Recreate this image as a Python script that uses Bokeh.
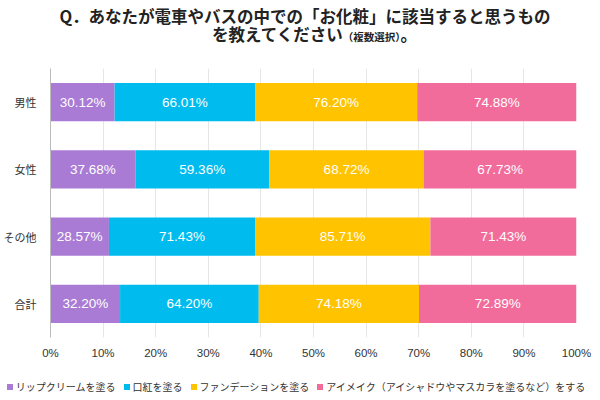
from bokeh.plotting import figure
from bokeh.models import ColumnDataSource, FactorRange, FixedTicker, CustomJSTickFormatter, Div
from bokeh.layouts import column
from bokeh.core.properties import value
from bokeh.embed import file_html
from bokeh.resources import INLINE

categories = ["男性", "女性", "その他", "合計"]
series_names = ["リップクリームを塗る", "口紅を塗る", "ファンデーションを塗る", "アイメイク（アイシャドウやマスカラを塗るなど）をする"]
lip = [30.12, 37.68, 28.57, 32.20]
rouge = [66.01, 59.36, 71.43, 64.20]
foundation = [76.20, 68.72, 85.71, 74.18]
eye = [74.88, 67.73, 71.43, 72.89]
colors = ["#A97BD5", "#00BCEE", "#FFC300", "#F26C9B"]
x_ticks = [0, 10, 20, 30, 40, 50, 60, 70, 80, 90, 100]
title_line1 = "Q．あなたが電車やバスの中での「お化粧」に該当すると思うもの"
title_line2a = "を教えてください"
title_line2b = "（複数選択）"
title_line2c = "。"

JP = "'Noto Sans CJK JP'"
FONT = "Noto Sans CJK JP"
NUM = "Liberation Sans"
series = [lip, rouge, foundation, eye]
totals = [sum(v) for v in zip(*series)]

title_html = (
    f"<div style=\"width:600px;font-family:{JP};font-weight:bold;color:#222;\">"
    f"<div style=\"font-size:16.5px;line-height:17.5px;padding-top:8px;padding-left:10px;"
    f"text-align:center;white-space:nowrap;\">{title_line1}</div>"
    f"<div style=\"font-size:16.5px;line-height:17.5px;padding-left:212px;text-align:left;"
    f"white-space:nowrap;\">{title_line2a}"
    f"<span style=\"font-size:10.5px;\">{title_line2b}</span>{title_line2c}</div></div>"
)
title_div = Div(text=title_html, width=600, height=60, margin=0)

p = figure(width=600, height=305, output_backend="svg", toolbar_location=None,
           y_range=FactorRange(factors=list(reversed(categories)), range_padding=0),
           x_range=(0, 100), margin=0,
           min_border_left=47, min_border_right=24, min_border_top=8, min_border_bottom=28)
p.outline_line_color = None

left = [0.0] * len(categories)
for name, vals, col in zip(series_names, series, colors):
    pct = [v / t * 100 for v, t in zip(vals, totals)]
    right = [l + q for l, q in zip(left, pct)]
    mid = [(l + r) / 2 for l, r in zip(left, right)]
    src = ColumnDataSource(dict(y=categories, left=left, right=right, mid=mid,
                                lab=[f"{v:.2f}%" for v in vals]))
    p.hbar(y="y", left="left", right="right", height=0.57, source=src,
           fill_color=col, line_color=None)
    p.text(x="mid", y="y", text="lab", source=src, text_color="white",
           text_align="center", text_baseline="middle", text_font=value(NUM),
           text_font_size="13.5px")
    left = right

p.xaxis.ticker = FixedTicker(ticks=x_ticks)
p.xaxis.formatter = CustomJSTickFormatter(code="return tick + '%'")
p.xaxis.axis_line_color = None
p.xaxis.major_tick_line_color = None
p.xaxis.minor_tick_line_color = None
p.xaxis.major_label_text_font = NUM
p.xaxis.major_label_text_font_size = "11.5px"
p.xaxis.major_label_text_color = "#333333"
p.xaxis.major_label_standoff = 3

p.yaxis.axis_line_color = "#bbbbbb"
p.yaxis.major_tick_line_color = None
p.yaxis.major_label_text_font = FONT
p.yaxis.major_label_text_font_size = "11px"
p.yaxis.major_label_text_color = "#333333"
p.yaxis.major_label_standoff = 8

p.xgrid.ticker = FixedTicker(ticks=x_ticks)
p.xgrid.grid_line_color = "#e6e6e6"
p.ygrid.grid_line_color = None

legend_parts = []
for name, col in zip(series_names, colors):
    legend_parts.append(
        f"<span style=\"display:inline-block;width:6px;height:6px;background:{col};"
        f"margin-right:3px;vertical-align:middle;\"></span>"
        f"<span style=\"margin-right:8px;vertical-align:middle;\">{name}</span>")
legend_html = (
    f"<div style=\"width:600px;text-align:center;font-family:{JP};font-size:10px;"
    f"color:#333;line-height:12px;padding-top:15px;white-space:nowrap;\">"
    + "".join(legend_parts) + "</div>")
legend_div = Div(text=legend_html, width=600, height=35, margin=0)

layout = column(title_div, p, legend_div, spacing=0, margin=0)

open("out.html", "w").write(file_html(layout, INLINE))
